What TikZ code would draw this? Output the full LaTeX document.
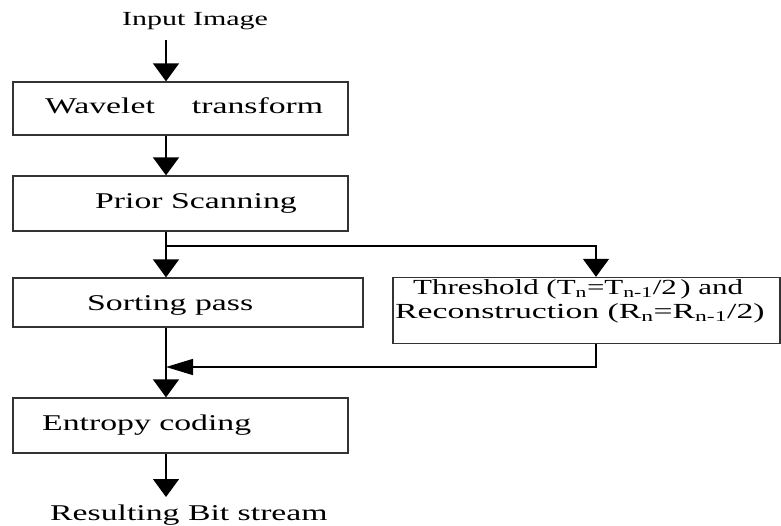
\documentclass[tikz,border=0pt]{standalone}
\usepackage{fontspec}
\setmainfont{Liberation Serif}[FakeStretch=1.5]
\usetikzlibrary{arrows.meta}
\begin{document}
\begin{tikzpicture}[x=1pt,y=-1pt,
  box/.style={draw=black!80,line width=1.3pt,rectangle,inner sep=0pt},
  lbl/.style={anchor=base west,inner sep=0pt,text height=15pt,text depth=4pt,font=\fontsize{22.5}{26}\selectfont},
  thl/.style={anchor=base west,inner sep=0pt,text height=14pt,text depth=3pt,font=\fontsize{21.5}{24}\selectfont},
  conn/.style={draw=black,line width=1.4pt},
  arr/.style={conn,-{Triangle[length=18pt,width=26pt]}},
  arrl/.style={conn,-{Triangle[length=27pt,width=16pt]}}]
\useasboundingbox (0,0) rectangle (781,525);
% boxes
\node[box,minimum width=335pt,minimum height=53pt] (wav) at (180.5,108.5) {};
\node[box,minimum width=335pt,minimum height=55pt] (pri) at (180.5,203.5) {};
\node[box,minimum width=350pt,minimum height=49pt] (sort) at (188,302.5) {};
\node[box,minimum width=387pt,minimum height=66pt] (thr) at (586.5,310.5) {};
\node[box,minimum width=335pt,minimum height=55pt] (ent) at (180.5,425.5) {};
% labels
\node[anchor=base west,inner sep=0pt,font=\fontsize{20}{24}\selectfont] (in) at (122,25) {Input Image};
\node[lbl] (wavt) at (45,113) {Wavelet\hspace{37pt}transform};
\node[lbl] (prit) at (95,208) {Prior Scanning};
\node[lbl] (sortt) at (87,310) {Sorting pass};
\node[thl] (thrt1) at (413,294) {\scalebox{0.96}[1]{Threshold (T\textsubscript{n}=T\textsubscript{n-1}/2\,) and}};
\node[thl] (thrt2) at (395,318.5) {\scalebox{1.045}[1]{Reconstruction (R\textsubscript{n}=R\textsubscript{n-1}/2)}};
\node[lbl] (entt) at (42,430) {Entropy coding};
\node[lbl] (out) at (50,520) {Resulting Bit stream};
% coordinates
\coordinate (c1) at (166,40);
\coordinate (br) at (166,246);
\coordinate (tx) at (596,246);
\coordinate (jn) at (166,367);
\coordinate (oe) at (166,497);
% connectors
\draw[arr] (c1) -- (c1 |- wav.north);
\draw[arr] (wav.south -| c1) -- (pri.north -| c1);
\draw[conn] (pri.south -| c1) -- (br);
\draw[arr] (br) -- (sort.north -| br);
\draw[arr] (br) -- (tx) -- (thr.north -| tx);
\draw[arrl] (thr.south -| tx) |- (jn);
\draw[arr] (sort.south -| c1) -- (ent.north -| c1);
\draw[arr] (ent.south -| c1) -- (oe);
\end{tikzpicture}
\end{document}
